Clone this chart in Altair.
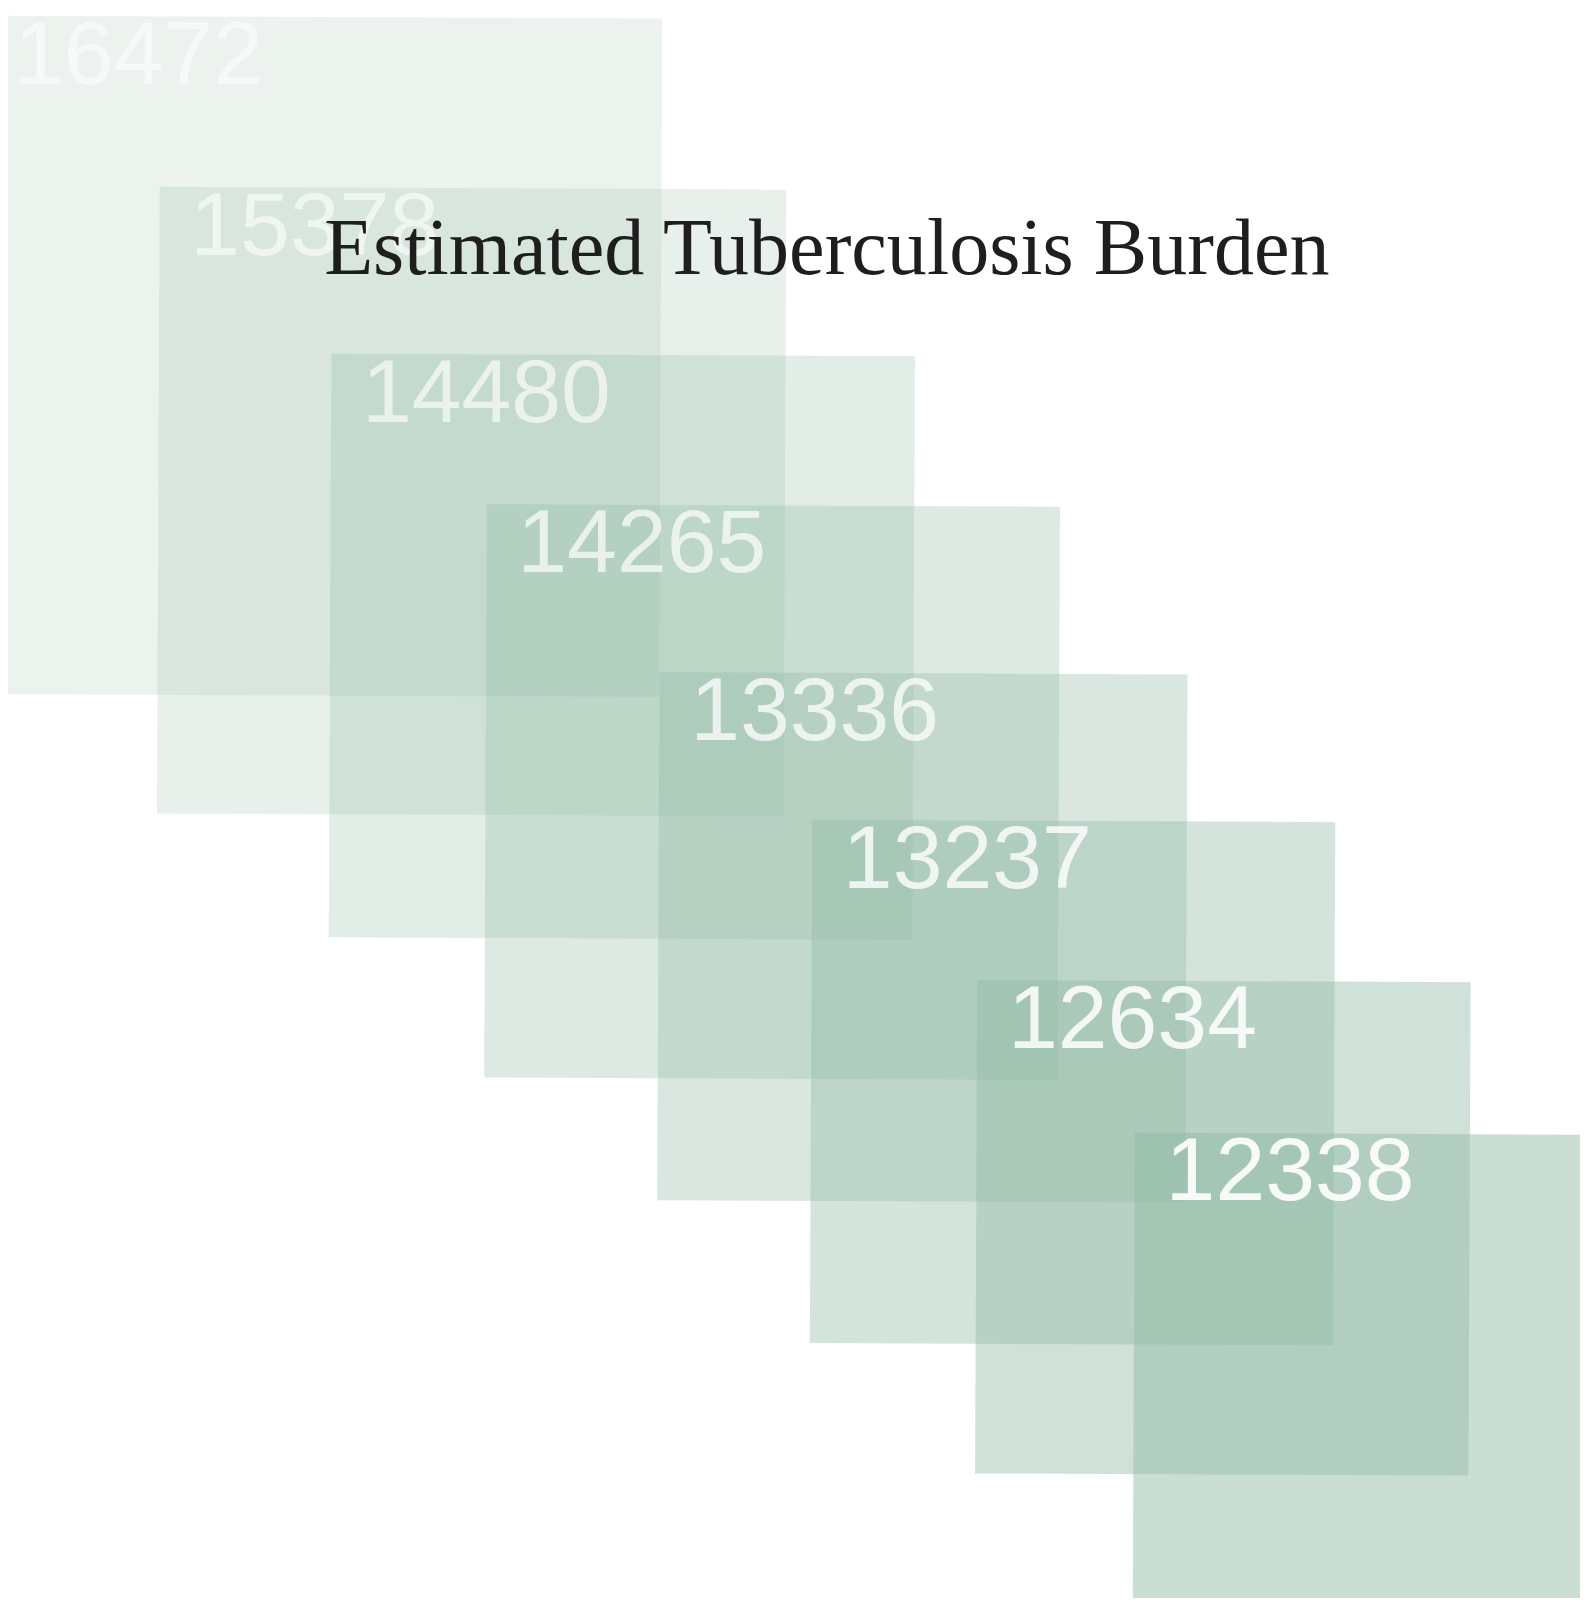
import altair as alt
import pandas as pd

# ---- data ----
values = [16472, 15378, 14480, 14265, 13336, 13237, 12634, 12338]
rank = [0, 1, 2, 3, 4, 5, 6, 7]
labels = [str(v) for v in values]
title_text = "Estimated Tuberculosis Burden"

df = pd.DataFrame({"rank": rank, "value": values, "label": labels})

# ---- layout / style ----
W, H = 1580, 1590
X0, X1 = 315, 1372          # pixel range of the rank scale (x)
Y0, Y1 = 346, 1368          # pixel range of the rank scale (y)
PX_X = (X1 - X0) / 7.0
PX_Y = (Y1 - Y0) / 7.0
VMIN, VMAX = min(values), max(values)
SIDE_MIN, SIDE_MAX = 481, 682
LABEL_DX, LABEL_DY = 32, 67  # label anchor relative to square's top-left corner

x_scale = alt.Scale(domain=[0, 7], range=[X0, X1])
y_scale = alt.Scale(domain=[0, 7], range=[Y0, Y1])
size_scale = alt.Scale(type="pow", exponent=2, zero=False, domain=[VMIN, VMAX],
                       range=[SIDE_MIN ** 2, SIDE_MAX ** 2])

# side length of a square (same mapping as the size scale)
side_expr = (
    f"sqrt({SIDE_MIN**2} + (datum.value*datum.value - {VMIN**2})"
    f"/({VMAX**2} - {VMIN**2})*({SIDE_MAX**2} - {SIDE_MIN**2}))"
)

squares = alt.Chart(df).mark_square(
    color="#91bba5", filled=True, angle=0.25, strokeWidth=0
).encode(
    x=alt.X("rank:Q", scale=x_scale, axis=None),
    y=alt.Y("rank:Q", scale=y_scale, axis=None),
    size=alt.Size("value:Q", scale=size_scale, legend=None),
    opacity=alt.Opacity("rank:Q", scale=alt.Scale(domain=[0, 7], range=[0.175, 0.48]), legend=None),
    order=alt.Order("rank:Q"),
)

texts = alt.Chart(df).transform_calculate(
    side=side_expr
).transform_calculate(
    lx=f"datum.rank + ({LABEL_DX} - datum.side/2)/{PX_X}",
    ly=f"datum.rank + ({LABEL_DY} - datum.side/2)/{PX_Y}",
).mark_text(
    align="left", baseline="alphabetic", font="Liberation Sans", fontSize=90, color="white"
).encode(
    x=alt.X("lx:Q", scale=x_scale, axis=None),
    y=alt.Y("ly:Q", scale=y_scale, axis=None),
    text=alt.Text("label:N"),
    opacity=alt.Opacity("rank:Q", scale=alt.Scale(domain=[0, 7], range=[0.55, 0.92]), legend=None),
)

chart = alt.layer(squares, texts).resolve_scale(
    opacity="independent"
).properties(
    width=W,
    height=H,
    autosize=alt.AutoSizeParams(type="none"),
    padding=0,
    background="white",
    title=alt.TitleParams(
        title_text,
        font="Liberation Serif",
        fontSize=80.5,
        fontWeight="normal",
        color="#1e1e1e",
        anchor="middle",
        frame="group",
        offset=0,
        baseline="alphabetic",
        dx=33,
        dy=343.5,
    ),
).configure_view(stroke=None)

chart.save("out.html", embed_options={"renderer": "svg", "actions": False})
